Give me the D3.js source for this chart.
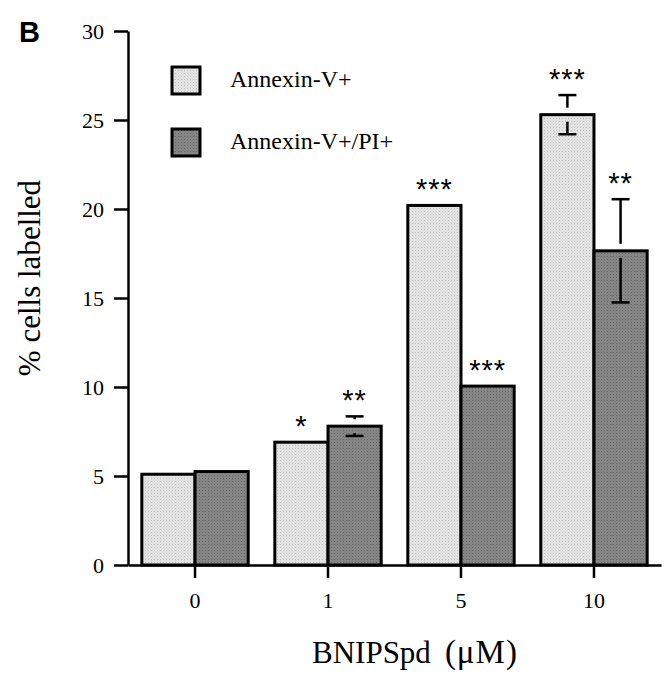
<!DOCTYPE html>
<html><head><meta charset="utf-8">
<script src="https://cdn.jsdelivr.net/npm/d3@7/dist/d3.min.js"></script>
<style>body{margin:0;background:#fff}svg{display:block}</style>
</head><body>
<script>
const categories = ["0", "1", "5", "10"];
const seriesNames = ["Annexin-V+", "Annexin-V+/PI+"];
const annexin = [5.1, 6.9, 20.2, 25.3];
const annexinPI = [5.25, 7.8, 10.05, 17.65];
const annexinErr = [0, 0, 0, 1.1];
const annexinPIErr = [0, 0.55, 0, 2.9];
const annexinSig = ["", "*", "***", "***"];
const annexinPISig = ["", "**", "***", "**"];
const yTicks = [0, 5, 10, 15, 20, 25, 30];

const W = 668, H = 686;
const svg = d3.select("body").append("svg").attr("width", W).attr("height", H);
const defs = svg.append("defs");
function dotPattern(id, base, dot) {
  const p = defs.append("pattern").attr("id", id).attr("patternUnits", "userSpaceOnUse")
    .attr("width", 3).attr("height", 3);
  p.append("rect").attr("width", 3).attr("height", 3).attr("fill", base);
  p.append("rect").attr("x", 1).attr("y", 1).attr("width", 1).attr("height", 1).attr("fill", dot);
}
dotPattern("pLight", "#e2e2e2", "#c4c4c4");
dotPattern("pDark", "#858585", "#6a6a6a");
const fills = ["url(#pLight)", "url(#pDark)"];

const axisX = 128, baseY = 565, topY = 31;
const x = d3.scaleBand().domain(categories).range([axisX, 661]).paddingInner(0.2).paddingOuter(0.104);
const xs = d3.scaleBand().domain([0, 1]).range([0, x.bandwidth()]);
const y = d3.scaleLinear().domain([0, 30]).range([baseY, topY]);

const serif = "Liberation Serif, Times New Roman, serif";
const sans = "Liberation Sans, Arial, sans-serif";

// Y axis
const yAxis = svg.append("g").attr("transform", `translate(${axisX},0)`)
  .call(d3.axisLeft(y).tickValues(yTicks).tickSize(14).tickSizeOuter(0).tickPadding(10));
yAxis.attr("font-family", serif);
yAxis.select(".domain").attr("stroke", "#000").attr("stroke-width", 2.5);
yAxis.selectAll(".tick line").attr("stroke", "#000").attr("stroke-width", 2.5);
yAxis.selectAll(".tick text").attr("font-family", serif).attr("font-size", 22).attr("fill", "#000").attr("dy", "0.36em");

// Bars
const series = [
  {vals: annexin, err: annexinErr, sig: annexinSig},
  {vals: annexinPI, err: annexinPIErr, sig: annexinPISig}
];
series.forEach((s, si) => {
  const g = svg.append("g");
  g.selectAll("rect").data(categories).join("rect")
    .attr("x", c => x(c) + xs(si))
    .attr("y", (c, i) => y(s.vals[i]))
    .attr("width", xs.bandwidth())
    .attr("height", (c, i) => y(0) - y(s.vals[i]))
    .attr("fill", fills[si]).attr("stroke", "#000").attr("stroke-width", 3);
});

// X axis
const xAxis = svg.append("g").attr("transform", `translate(0,${baseY})`)
  .call(d3.axisBottom(x).tickSize(13).tickSizeOuter(0).tickPadding(14));
xAxis.attr("font-family", serif);
xAxis.select(".domain").attr("stroke", "#000").attr("stroke-width", 2.5);
xAxis.selectAll(".tick line").attr("stroke", "#000").attr("stroke-width", 2.5);
xAxis.selectAll(".tick text").attr("font-family", serif).attr("font-size", 22).attr("fill", "#000");

// Error bars and significance
series.forEach((s, si) => {
  const g = svg.append("g").attr("stroke", "#000").attr("stroke-width", 2.5);
  categories.forEach((c, i) => {
    const cx = x(c) + xs(si) + xs.bandwidth() / 2;
    const v = s.vals[i], e = s.err[i];
    let topOfMark = y(v);
    if (e > 0) {
      const yt = y(v + e), yb = y(v - e), yv = y(v);
      g.append("line").attr("x1", cx).attr("x2", cx).attr("y1", yt).attr("y2", yv - 7);
      g.append("line").attr("x1", cx - 9).attr("x2", cx + 9).attr("y1", yt).attr("y2", yt);
      g.append("line").attr("x1", cx).attr("x2", cx).attr("y1", yv + 7).attr("y2", yb);
      g.append("line").attr("x1", cx - 9).attr("x2", cx + 9).attr("y1", yb).attr("y2", yb);
      topOfMark = yt;
    }
    if (s.sig[i]) {
      svg.append("text").attr("x", cx).attr("y", topOfMark - 22 + 16)
        .attr("text-anchor", "middle").attr("font-family", sans).attr("font-size", 29)
        .attr("letter-spacing", 1).text(s.sig[i]);
    }
  });
});

// Legend
const legend = svg.append("g");
seriesNames.forEach((n, i) => {
  const ly = 67 + i * 62;
  legend.append("rect").attr("x", 172).attr("y", ly).attr("width", 28).attr("height", 27)
    .attr("fill", fills[i]).attr("stroke", "#000").attr("stroke-width", 3);
  legend.append("text").attr("x", 230).attr("y", ly + 20).attr("font-family", serif)
    .attr("font-size", 24).text(n);
});

// Axis titles
svg.append("text").attr("transform", "translate(40,278) rotate(-90)").attr("text-anchor", "middle")
  .attr("font-family", serif).attr("font-size", 31).text("% cells labelled");
const xt = svg.append("text").attr("x", 312).attr("y", 663)
  .attr("font-family", serif).attr("font-size", 31);
xt.append("tspan").text("BNIPSpd");
xt.append("tspan").attr("dx", 14).attr("font-size", 33).attr("letter-spacing", 1).text("(\u03BCM)");

// Panel letter
svg.append("text").attr("x", 19).attr("y", 42).attr("font-family", sans).attr("font-weight", "bold")
  .attr("font-size", 29).text("B");
</script>
</body></html>
